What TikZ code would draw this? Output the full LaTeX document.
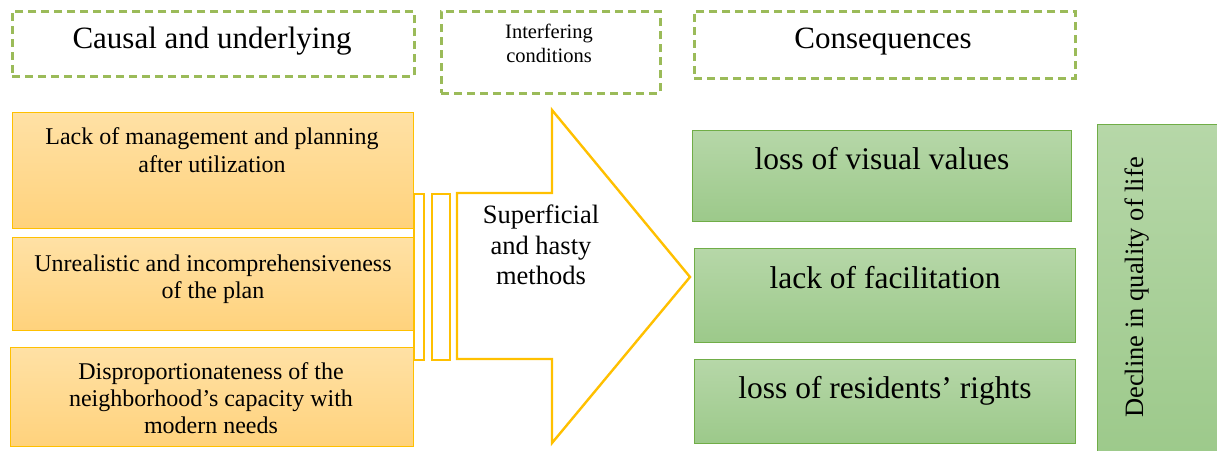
\documentclass[tikz,border=0pt]{standalone}
\usepackage{fontspec}
\setmainfont{Liberation Serif}
\definecolor{dashgreen}{HTML}{9BBB59}
\definecolor{gold}{HTML}{FFC000}
\definecolor{leaf}{HTML}{70AD47}
\definecolor{orangetop}{HTML}{FFE1A5}
\definecolor{orangebot}{HTML}{FFD27C}
\definecolor{greentop}{HTML}{B6D7A8}
\definecolor{greenbot}{HTML}{9CC98A}
\tikzset{
	headbox/.style = {
		shape=rectangle,
		draw=dashgreen,
		line width=2.8pt,
		dash pattern=on 8pt off 5pt,
		anchor=north west,
		inner sep=0pt
	},
	causebox/.style = {
		shape=rectangle,
		draw=gold,
		line width=1.3pt,
		top color=orangetop,
		bottom color=orangebot,
		anchor=north west,
		inner sep=0pt
	},
	effectbox/.style = {
		shape=rectangle,
		draw=leaf,
		line width=1.3pt,
		top color=greentop,
		bottom color=greenbot,
		anchor=north west,
		inner sep=0pt
	},
	bar/.style = {
		shape=rectangle,
		draw=gold,
		line width=2.4pt,
		anchor=north west,
		inner sep=0pt
	},
	boxtext/.style = {
		inner sep=0pt,
		align=center
	}
}

\begin{document}
\begin{tikzpicture}[x=1pt,y=-1pt]
	\useasboundingbox (0,0) rectangle (1217,450);
	% headings
	\node[headbox, minimum width=402pt, minimum height=65pt] (causalhead) at (11,10) {};
	\node[headbox, minimum width=219pt, minimum height=82pt] (interhead) at (440,10) {};
	\node[headbox, minimum width=381pt, minimum height=67pt] (conshead) at (693,10) {};
	\node[boxtext, anchor=base, font=\fontsize{31}{36}\selectfont] (causaltext) at (212,48) {Causal and underlying};
	\node[boxtext, font=\fontsize{20.5}{24}\selectfont] (intertext) at (549,43) {Interfering\\conditions};
	\node[boxtext, anchor=base, font=\fontsize{31}{36}\selectfont] (constext) at (883,48) {Consequences};
	% causes
	\node[causebox, minimum width=401pt, minimum height=116pt] (lackplan) at (12,112) {};
	\node[causebox, minimum width=401pt, minimum height=93pt] (unreal) at (12,237) {};
	\node[causebox, minimum width=403pt, minimum height=99pt] (dispro) at (10,347) {};
	\node[boxtext, font=\fontsize{24}{27.5}\selectfont] (lackplantext) at (212,150) {Lack of management and planning\\after utilization};
	\node[boxtext, font=\fontsize{24}{27.5}\selectfont] (unrealtext) at (213,279) {Unrealistic and incomprehensiveness\\of the plan};
	\node[boxtext, font=\fontsize{24}{27}\selectfont] (disprotext) at (211,398) {Disproportionateness of the\\neighborhood’s capacity with\\modern needs};
	% bars and arrow
	\node[bar, minimum width=10pt, minimum height=166pt] (barone) at (413,193) {};
	\node[bar, minimum width=18pt, minimum height=166pt] (bartwo) at (431,193) {};
	\draw[gold, line width=2.4pt, fill=white, line join=miter]
		(457,193) -- (552,193) -- (552,110) -- (690,277) -- (552,443) -- (552,359) -- (457,359) -- cycle;
	\node[boxtext, font=\fontsize{26.5}{30.5}\selectfont] (methodtext) at (541,245) {Superficial\\and hasty\\methods};
	% consequences
	\node[effectbox, minimum width=379pt, minimum height=91pt] (visual) at (692,130) {};
	\node[effectbox, minimum width=381pt, minimum height=94pt] (facil) at (694,248) {};
	\node[effectbox, minimum width=381pt, minimum height=84pt] (rights) at (694,359) {};
	\node[effectbox, minimum width=140pt, minimum height=340pt] (decline) at (1097,124) {};
	\node[boxtext, anchor=base, font=\fontsize{31.5}{36}\selectfont] (visualtext) at (882,169) {loss of visual values};
	\node[boxtext, anchor=base, font=\fontsize{31.5}{36}\selectfont] (faciltext) at (885,288) {lack of facilitation};
	\node[boxtext, anchor=base, font=\fontsize{31.5}{36}\selectfont] (rightstext) at (885,398) {loss of residents’ rights};
	\node[boxtext, anchor=base, rotate=90, font=\fontsize{26.5}{30}\selectfont] (declinetext) at (1143,287.5) {Decline in quality of life};
\end{tikzpicture}
\end{document}
